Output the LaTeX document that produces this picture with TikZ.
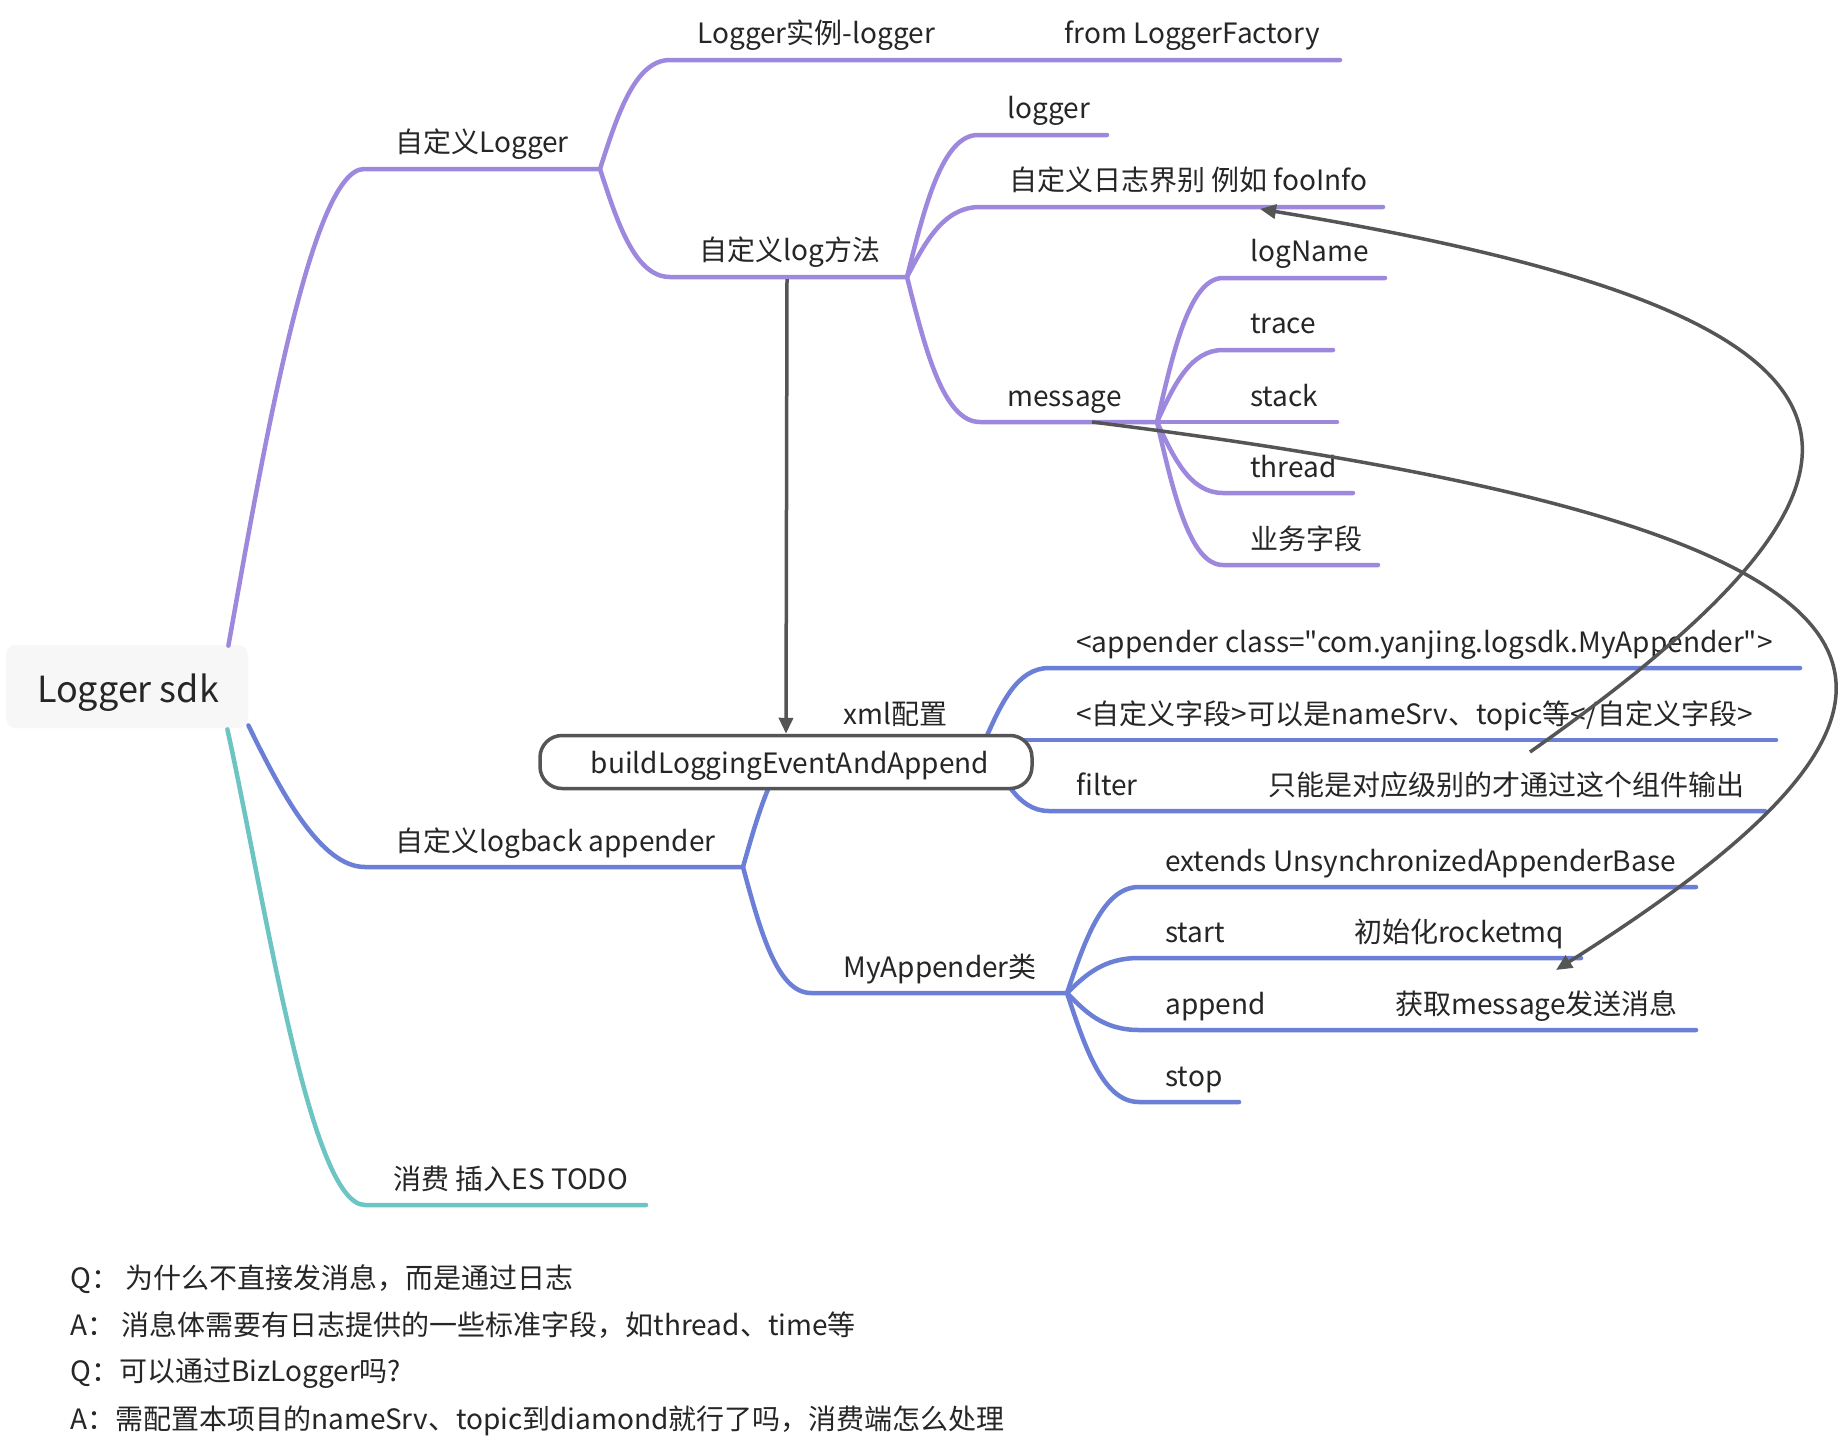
\documentclass[tikz,border=0pt]{standalone}
\usepackage{fontspec}
\setmainfont{Noto Sans CJK SC}[Ligatures=TeXOff]
\usetikzlibrary{calc,arrows.meta}
\definecolor{pur}{HTML}{9E88DE}
\definecolor{blu}{HTML}{6B7FD7}
\definecolor{tea}{HTML}{6CC5C2}
\definecolor{gry}{HTML}{555555}
\definecolor{txt}{HTML}{262626}
\definecolor{rootbg}{HTML}{F7F7F7}
% branch: colour, fork, corner, end of underline
\newcommand\mmbranch[4]{\draw[br,#1] let \p1=(#2), \p2=(#3) in (\p1) .. controls ({\x1+0.25*(\x2-\x1)},{\y1+0.5*(\y2-\y1)}) and ({\x1+0.5*(\x2-\x1)},\y2) .. (\p2) -- (#4);}
\begin{document}
\begin{tikzpicture}[x=0.5pt,y=-0.5pt,
  br/.style={line width=2.25pt,line cap=round,line join=round},
  lbl/.style={anchor=base west,inner sep=0pt,text=txt,font=\fontsize{14pt}{16pt}\selectfont},
  conn/.style={draw=gry,line width=1.75pt,-{Triangle[length=8pt,width=7pt]}},
]
\useasboundingbox[fill=white] (0,0) rectangle (1843,1452);

% ---------- root
\node[fill=rootbg,rounded corners=5pt,minimum width=121pt,minimum height=41.5pt,inner sep=0pt] (root) at (127,686.5) {};
\node[anchor=base,inner sep=0pt,font=\fontsize{18pt}{20pt}\selectfont,text=txt] (t-root) at (128,702) {Logger sdk};
\coordinate (rootP) at ($(root.north east)+(-20,1)$);
\coordinate (rootB) at ($(root.south east)+(0,-3)$);
\coordinate (rootT) at ($(root.south east)+(-21,1)$);

% ---------- coordinates (fork / corner / end)
\coordinate (cl-s) at (364,169);  \coordinate (cl-e) at (600,169);
\coordinate (li-s) at (670,60);   \coordinate (li-e) at (1340,60);
\coordinate (lm-s) at (670,277);  \coordinate (lm-e) at (907,277);
\coordinate (lg-s) at (978,135);  \coordinate (lg-e) at (1107,135);
\coordinate (lv-s) at (980,207);  \coordinate (lv-e) at (1383,207);
\coordinate (ms-s) at (980,422);  \coordinate (ms-e) at (1157,422);
\coordinate (ln-s) at (1223,278); \coordinate (ln-e) at (1385,278);
\coordinate (tr-s) at (1223,350); \coordinate (tr-e) at (1333,350);
\coordinate (st-e) at (1337,422);
\coordinate (th-s) at (1223,493); \coordinate (th-e) at (1353,493);
\coordinate (bz-s) at (1223,565); \coordinate (bz-e) at (1378,565);
\coordinate (la-s) at (365,867);  \coordinate (la-e) at (743,867);
\coordinate (xm-s) at (815,740);  \coordinate (xm-e) at (985,740);
\coordinate (ap-s) at (1049,668); \coordinate (ap-e) at (1800,668);
\coordinate (cf-e) at (1776,740);
\coordinate (fi-s) at (1049,811); \coordinate (fi-e) at (1765,811);
\coordinate (my-s) at (811,993);  \coordinate (my-e) at (1067,993);
\coordinate (ex-s) at (1139,887); \coordinate (ex-e) at (1696,887);
\coordinate (sa-s) at (1139,958); \coordinate (sa-e) at (1581,958);
\coordinate (an-s) at (1139,1030);\coordinate (an-e) at (1696,1030);
\coordinate (so-s) at (1139,1102);\coordinate (so-e) at (1239,1102);
\coordinate (es-s) at (365,1205); \coordinate (es-e) at (646,1205);

% ---------- main branches
\draw[br,pur] (rootP) .. controls (260,470) and (310,169) .. (cl-s) -- (cl-e);
\draw[br,blu] (rootB) .. controls (280,790) and (320,867) .. (la-s) -- (la-e);
\draw[br,tea] (rootT) .. controls (265,900) and (310,1205) .. (es-s) -- (es-e);

% ---------- sub branches
\mmbranch{pur}{cl-e}{li-s}{li-e}
\mmbranch{pur}{cl-e}{lm-s}{lm-e}
\mmbranch{pur}{lm-e}{lg-s}{lg-e}
\mmbranch{pur}{lm-e}{lv-s}{lv-e}
\mmbranch{pur}{lm-e}{ms-s}{ms-e}
\mmbranch{pur}{ms-e}{ln-s}{ln-e}
\mmbranch{pur}{ms-e}{tr-s}{tr-e}
\draw[br,pur] (ms-e) -- (st-e);
\mmbranch{pur}{ms-e}{th-s}{th-e}
\mmbranch{pur}{ms-e}{bz-s}{bz-e}
\mmbranch{blu}{la-e}{xm-s}{xm-e}
\mmbranch{blu}{xm-e}{ap-s}{ap-e}
\draw[br,blu] (xm-e) -- (cf-e);
\mmbranch{blu}{xm-e}{fi-s}{fi-e}
\mmbranch{blu}{la-e}{my-s}{my-e}
\mmbranch{blu}{my-e}{ex-s}{ex-e}
\mmbranch{blu}{my-e}{sa-s}{sa-e}
\mmbranch{blu}{my-e}{an-s}{an-e}
\mmbranch{blu}{my-e}{so-s}{so-e}

% ---------- labels
\node[lbl] (t-cl) at (395,152) {自定义Logger};
\node[lbl] (t-li) at (697,43) {Logger实例-logger};
\node[lbl] (t-lf) at (1064,43) {from LoggerFactory};
\node[lbl] (t-lm) at (699,260) {自定义log方法};
\node[lbl] (t-lg) at (1007,118) {logger};
\node[lbl] (t-lv) at (1009,190) {自定义日志界别 例如 fooInfo};
\node[lbl] (t-ms) at (1007,406) {message};
\node[lbl] (t-ln) at (1250,261) {logName};
\node[lbl] (t-tr) at (1250,333) {trace};
\node[lbl] (t-st) at (1250,406) {stack};
\node[lbl] (t-th) at (1250,477) {thread};
\node[lbl] (t-bz) at (1250,549) {业务字段};
\node[lbl] (t-la) at (395,851) {自定义logback appender};
\node[lbl] (t-xm) at (843,724) {xml配置};
\node[lbl] (t-ap) at (1076,652) {<appender class="com.yanjing.logsdk.MyAppender">};
\node[lbl] (t-cf) at (1076,724) {<自定义字段>可以是nameSrv、topic等</自定义字段>};
\node[lbl] (t-fi) at (1076,795) {filter};
\node[lbl] (t-fd) at (1268,795) {只能是对应级别的才通过这个组件输出};
\node[lbl] (t-my) at (843,977) {MyAppender类};
\node[lbl] (t-ex) at (1165,871) {extends UnsynchronizedAppenderBase};
\node[lbl] (t-sa) at (1165,942) {start};
\node[lbl] (t-sd) at (1354,942) {初始化rocketmq};
\node[lbl] (t-an) at (1165,1014) {append};
\node[lbl] (t-ad) at (1395,1014) {获取message发送消息};
\node[lbl] (t-so) at (1165,1086) {stop};
\node[lbl] (t-es) at (393,1189) {消费 插入ES TODO};

% ---------- floating box
\node[draw=gry,line width=1.75pt,fill=white,rounded corners=11pt,minimum width=246pt,
      minimum height=26.5pt,inner sep=0pt] (box) at (786,762) {};
\node[anchor=base,inner sep=0pt,text=txt,font=\fontsize{14pt}{16pt}\selectfont] (t-box) at (790,773) {buildLoggingEventAndAppend};

% ---------- notes
\node[lbl] (q1) at (70,1288) {Q： 为什么不直接发消息，而是通过日志};
\node[lbl] (a1) at (70,1335) {A： 消息体需要有日志提供的一些标准字段，如thread、time等};
\node[lbl] (q2) at (70,1381) {Q：可以通过BizLogger吗?};
\node[lbl] (a2) at (70,1429) {A：需配置本项目的nameSrv、topic到diamond就行了吗，消费端怎么处理};

% ---------- relation connectors
\coordinate (lm-a) at (787,279);
\coordinate (msg-a) at (1092,422);
\coordinate (app-tip) at (1556,970);
\coordinate (cfg-a) at (1530,752);
\coordinate (foo-tip) at (1260,209);
\draw[conn] (lm-a) -- (box.north);
\draw[conn] (msg-a) .. controls (1992,534) and (1976,705) .. (app-tip);
\draw[conn] (cfg-a) .. controls (1930,470) and (1925,318) .. (foo-tip);
\end{tikzpicture}
\end{document}
